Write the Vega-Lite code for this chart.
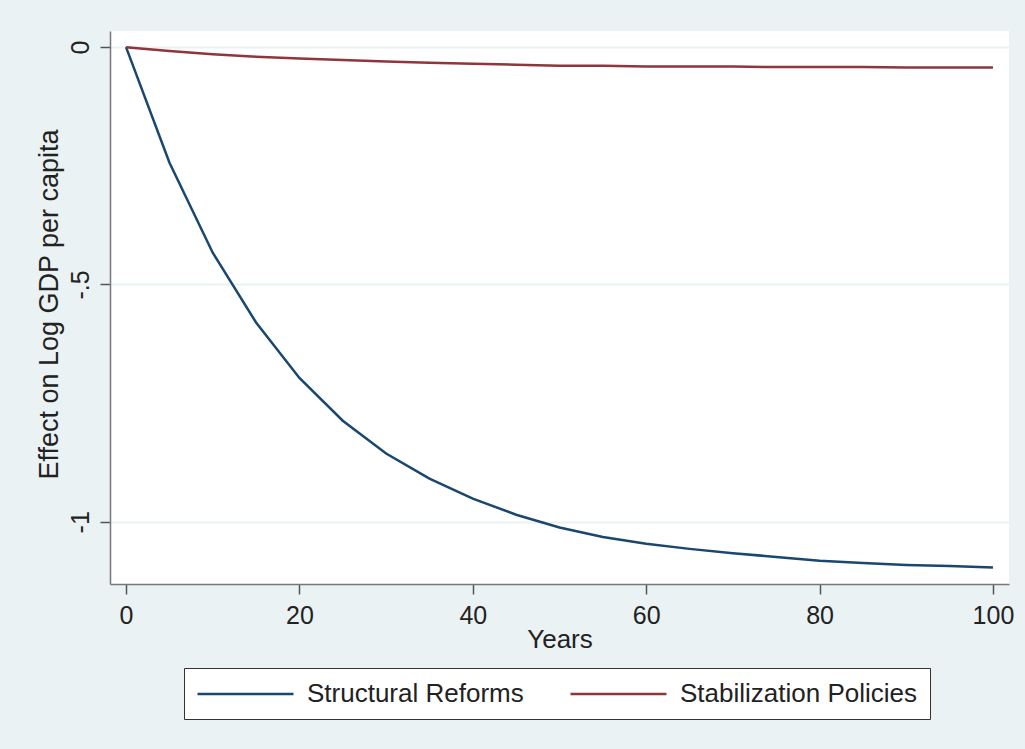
{
  "$schema": "https://vega.github.io/schema/vega-lite/v6.json",
  "width": 899,
  "height": 553,
  "autosize": {"type": "none"},
  "padding": {"top": 31, "left": 110, "right": 16, "bottom": 165},
  "background": "#EAF2F3",
  "config": {
    "view": {"fill": "white", "stroke": null},
    "font": "Liberation Sans"
  },
  "data": {
    "values": [
      {"year": 0, "value": 0, "series": "Structural Reforms"},
      {"year": 5, "value": -0.243, "series": "Structural Reforms"},
      {"year": 10, "value": -0.433, "series": "Structural Reforms"},
      {"year": 15, "value": -0.58, "series": "Structural Reforms"},
      {"year": 20, "value": -0.697, "series": "Structural Reforms"},
      {"year": 25, "value": -0.787, "series": "Structural Reforms"},
      {"year": 30, "value": -0.856, "series": "Structural Reforms"},
      {"year": 35, "value": -0.909, "series": "Structural Reforms"},
      {"year": 40, "value": -0.951, "series": "Structural Reforms"},
      {"year": 45, "value": -0.985, "series": "Structural Reforms"},
      {"year": 50, "value": -1.012, "series": "Structural Reforms"},
      {"year": 55, "value": -1.032, "series": "Structural Reforms"},
      {"year": 60, "value": -1.046, "series": "Structural Reforms"},
      {"year": 65, "value": -1.057, "series": "Structural Reforms"},
      {"year": 70, "value": -1.066, "series": "Structural Reforms"},
      {"year": 75, "value": -1.074, "series": "Structural Reforms"},
      {"year": 80, "value": -1.082, "series": "Structural Reforms"},
      {"year": 85, "value": -1.087, "series": "Structural Reforms"},
      {"year": 90, "value": -1.091, "series": "Structural Reforms"},
      {"year": 95, "value": -1.093, "series": "Structural Reforms"},
      {"year": 100, "value": -1.096, "series": "Structural Reforms"},
      {"year": 0, "value": 0, "series": "Stabilization Policies"},
      {"year": 5, "value": -0.008, "series": "Stabilization Policies"},
      {"year": 10, "value": -0.015, "series": "Stabilization Policies"},
      {"year": 15, "value": -0.02, "series": "Stabilization Policies"},
      {"year": 20, "value": -0.024, "series": "Stabilization Policies"},
      {"year": 25, "value": -0.027, "series": "Stabilization Policies"},
      {"year": 30, "value": -0.03, "series": "Stabilization Policies"},
      {"year": 35, "value": -0.033, "series": "Stabilization Policies"},
      {"year": 40, "value": -0.035, "series": "Stabilization Policies"},
      {"year": 45, "value": -0.037, "series": "Stabilization Policies"},
      {"year": 50, "value": -0.039, "series": "Stabilization Policies"},
      {"year": 55, "value": -0.039, "series": "Stabilization Policies"},
      {"year": 60, "value": -0.041, "series": "Stabilization Policies"},
      {"year": 65, "value": -0.041, "series": "Stabilization Policies"},
      {"year": 70, "value": -0.041, "series": "Stabilization Policies"},
      {"year": 75, "value": -0.042, "series": "Stabilization Policies"},
      {"year": 80, "value": -0.042, "series": "Stabilization Policies"},
      {"year": 85, "value": -0.042, "series": "Stabilization Policies"},
      {"year": 90, "value": -0.043, "series": "Stabilization Policies"},
      {"year": 95, "value": -0.043, "series": "Stabilization Policies"},
      {"year": 100, "value": -0.043, "series": "Stabilization Policies"}
    ]
  },
  "mark": {"type": "line", "strokeWidth": 2.5},
  "encoding": {
    "x": {
      "field": "year",
      "type": "quantitative",
      "scale": {"domain": [-1.85, 101.85], "nice": false, "zero": false},
      "axis": {
        "values": [0, 20, 40, 60, 80, 100],
        "grid": false,
        "tickSize": 10,
        "tickColor": "#555555",
        "tickWidth": 1.5,
        "domainColor": "#777777",
        "domainWidth": 1.5,
        "labelFontSize": 25,
        "labelColor": "#222222",
        "labelPadding": 9,
        "labelFlush": false,
        "title": "Years",
        "titleFontSize": 26,
        "titleFontWeight": "normal",
        "titleColor": "#222222",
        "titleBaseline": "alphabetic",
        "titleX": 449.5,
        "titleY": 63
      }
    },
    "y": {
      "field": "value",
      "type": "quantitative",
      "scale": {"domain": [-1.131, 0.034], "nice": false, "zero": false},
      "axis": {
        "values": [0, -0.5, -1],
        "labelExpr": "datum.value == 0 ? '0' : (datum.value == -1 ? '-1' : '-.5')",
        "grid": true,
        "gridColor": "#EAF2F3",
        "gridWidth": 2,
        "tickSize": 10,
        "tickColor": "#555555",
        "tickWidth": 1.5,
        "domainColor": "#777777",
        "domainWidth": 1.5,
        "labelAngle": -90,
        "labelAlign": "center",
        "labelBaseline": "alphabetic",
        "labelFontSize": 25,
        "labelColor": "#222222",
        "labelPadding": 12,
        "labelFlush": false,
        "title": "Effect on Log GDP per capita",
        "titleFontSize": 27,
        "titleFontWeight": "normal",
        "titleColor": "#222222",
        "titleBaseline": "alphabetic",
        "titleAlign": "center",
        "titleAngle": -90,
        "titleX": -53,
        "titleY": 273
      }
    },
    "color": {
      "field": "series",
      "type": "nominal",
      "scale": {
        "domain": ["Structural Reforms", "Stabilization Policies"],
        "range": ["#1A476F", "#90353B"]
      },
      "legend": {
        "title": null,
        "orient": "none",
        "legendX": 74,
        "legendY": 637,
        "direction": "horizontal",
        "fillColor": "white",
        "strokeColor": "#333333",
        "padding": 12,
        "symbolType": "M-1,0H6.68",
        "symbolSize": 625,
        "symbolStrokeWidth": 2.5,
        "labelFontSize": 26,
        "labelColor": "#222222",
        "labelOffset": 83,
        "columnPadding": 41,
        "labelLimit": 400
      }
    }
  }
}
